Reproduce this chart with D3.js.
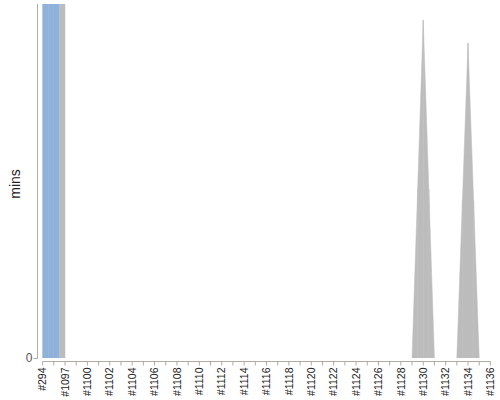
<!DOCTYPE html>
<html>
<head>
<meta charset="utf-8">
<script src="https://cdn.jsdelivr.net/npm/d3@7"></script>
<style>
  body { margin: 0; background: #fff; }
  text { font-family: "Liberation Sans", Arial, sans-serif; }
</style>
</head>
<body>
<svg id="chart" width="500" height="400"></svg>
<script>
// build numbers along the x axis (every second one gets a label)
const builds = [
    '#294', '#1096', '#1097', '#1099', '#1100', '#1101', '#1102', '#1103', '#1104', '#1105',
    '#1106', '#1107', '#1108', '#1109', '#1110', '#1111', '#1112', '#1113', '#1114', '#1115',
    '#1116', '#1117', '#1118', '#1119', '#1120', '#1121', '#1122', '#1123', '#1124', '#1125',
    '#1126', '#1127', '#1128', '#1129', '#1130', '#1131', '#1132', '#1133', '#1134', '#1135',
    '#1136'
];

// build result decides the colour of each half segment
const results = [
    'SUCCESS', 'SUCCESS', 'ABORTED', 'ABORTED', 'ABORTED', 'ABORTED', 'ABORTED', 'ABORTED', 'ABORTED', 'ABORTED',
    'ABORTED', 'ABORTED', 'ABORTED', 'ABORTED', 'ABORTED', 'ABORTED', 'ABORTED', 'ABORTED', 'ABORTED', 'ABORTED',
    'ABORTED', 'ABORTED', 'ABORTED', 'ABORTED', 'ABORTED', 'ABORTED', 'ABORTED', 'ABORTED', 'ABORTED', 'ABORTED',
    'ABORTED', 'ABORTED', 'ABORTED', 'ABORTED', 'ABORTED', 'ABORTED', 'ABORTED', 'ABORTED', 'ABORTED', 'ABORTED',
    'ABORTED'
];

// duration in minutes (first builds run far off the top of the axis, one has no value)
const durations = [
    120, 120, 120, null, 0, 0, 0, 0, 0, 0,
    0, 0, 0, 0, 0, 0, 0, 0, 0, 0,
    0, 0, 0, 0, 0, 0, 0, 0, 0, 0,
    0, 0, 0, 0, 0.955, 0, 0, 0, 0.89, 0,
    0
];

const yTicks = [0];
const yMax = 1;

const RESULT_COLORS = { SUCCESS: '#8eb2d9', ABORTED: '#bcbcbc' };
const AXIS_COLOR = '#b0aca4';
const LABEL_COLOR = '#222';

const svg = d3.select('#chart');
const plot = { left: 37, right: 496, top: 4, bottom: 358 };

const x = d3.scaleBand().domain(builds).range([plot.left, plot.right]).padding(0);
const cx = i => x(builds[i]) + x.bandwidth() / 2;
const y = d3.scaleLinear().domain([0, yMax]).range([plot.bottom, plot.top]);

svg.append('defs').append('clipPath').attr('id', 'plot-clip')
    .append('rect')
    .attr('x', plot.left)
    .attr('y', plot.top)
    .attr('width', plot.right - plot.left)
    .attr('height', plot.bottom - plot.top);

// --- area: each step between two builds is split at the middle,
// left half painted with the previous build's colour, right half with the current one
const pieces = [];
for (let i = 1; i < builds.length; i++) {
    const v0 = durations[i - 1], v1 = durations[i];
    if (v0 == null || v1 == null) continue;
    if (v0 === 0 && v1 === 0) continue;
    const x0 = cx(i - 1), x1 = cx(i), xm = (x0 + x1) / 2;
    const y0 = y(v0), y1 = y(v1), ym = (y0 + y1) / 2, base = y(0);
    pieces.push({ pts: [[x0, y0], [xm, ym], [xm, base], [x0, base]], color: RESULT_COLORS[results[i - 1]] });
    pieces.push({ pts: [[x1, y1], [xm, ym], [xm, base], [x1, base]], color: RESULT_COLORS[results[i]] });
}

svg.append('g')
    .attr('clip-path', 'url(#plot-clip)')
    .selectAll('path')
    .data(pieces)
    .enter()
    .append('path')
    .attr('d', d => 'M' + d.pts.map(p => p.join(',')).join('L') + 'Z')
    .attr('fill', d => d.color)
    .attr('stroke', d => d.color)
    .attr('stroke-width', 0.5)
    .attr('stroke-linejoin', 'round');

// --- y axis
const yAxis = svg.append('g')
    .attr('transform', `translate(${plot.left + 0.5},0)`)
    .call(d3.axisLeft(y).tickValues(yTicks).tickFormat(d3.format('d')).tickSize(4).tickPadding(1));
yAxis.select('.domain').remove();
yAxis.append('line')
    .attr('x1', 0).attr('x2', 0)
    .attr('y1', plot.top).attr('y2', plot.bottom + 1)
    .attr('stroke', AXIS_COLOR);
yAxis.selectAll('.tick line').attr('stroke', AXIS_COLOR);
yAxis.selectAll('.tick text')
    .attr('fill', '#555')
    .style('font-size', '12px');

svg.append('text')
    .attr('transform', `translate(19.5,184) rotate(-90)`)
    .attr('text-anchor', 'middle')
    .attr('fill', LABEL_COLOR)
    .style('font-size', '14px')
    .text('mins');

// --- x axis
const xAxisY = 361.5;
const xAxis = svg.append('g')
    .attr('transform', `translate(0,${xAxisY})`)
    .call(d3.axisBottom(x).tickSize(4).tickFormat((d, i) => i % 2 === 0 ? d : ''));
xAxis.select('.domain').remove();
xAxis.append('line')
    .attr('x1', cx(0)).attr('x2', cx(builds.length - 1))
    .attr('y1', 0).attr('y2', 0)
    .attr('stroke', AXIS_COLOR);
xAxis.selectAll('.tick line').attr('stroke', AXIS_COLOR);
xAxis.selectAll('.tick text')
    .attr('transform', 'rotate(-90)')
    .attr('text-anchor', 'end')
    .attr('x', -6)
    .attr('y', 0)
    .attr('dy', '0.35em')
    .attr('fill', LABEL_COLOR)
    .style('font-size', '10.5px');
</script>
</body>
</html>
